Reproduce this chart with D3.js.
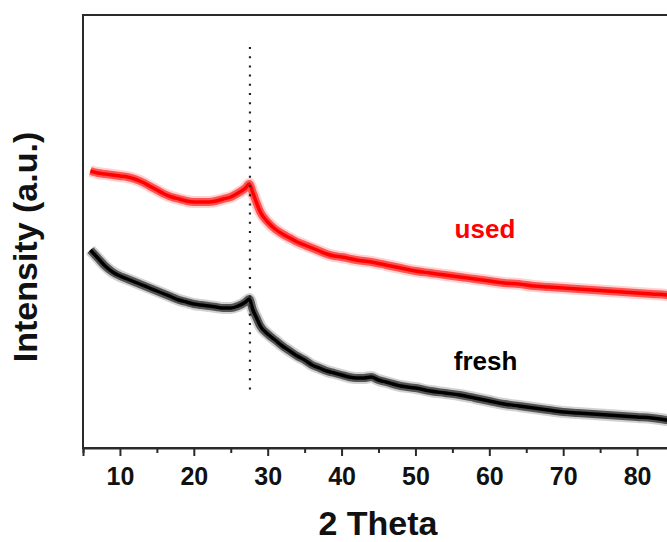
<!DOCTYPE html>
<html>
<head>
<meta charset="utf-8">
<script src="https://cdn.jsdelivr.net/npm/d3@7"></script>
<style>
  html, body { margin: 0; padding: 0; background: #fff; }
  svg { display: block; }
  text { font-family: "Liberation Sans", Arial, sans-serif; font-weight: bold; }
</style>
</head>
<body>
<svg id="chart" width="667" height="542"></svg>
<script>
// ---- data (intensity in arbitrary units) ----
const usedTheta = [6,7,8,9,10,11,12,13,14,15,16,17,18,19,20,21,22,23,24,25,26,27,27.5,28,28.5,29,30,31,32,33,34,35,36,37,38,39,40,42,44,46,48,50,52,54,56,58,60,62,64,66,68,70,72,74,76,78,80,82,84,85];
const usedIntensity = [277,275,274,273,272,271,269,266,262,258,254,251,249,247,246,246,246,247,249,251,255,260,264,255,245,236,226,219,214,210,206,203,200,197,194,192,191,188,186,183,180,177,175,173,171,169,167,165,164,162,161,160,159,158,157,156,155,154,153,152];

const freshTheta = [6,7,8,9,10,11,12,13,14,15,16,17,18,19,20,21,22,23,24,25,26,27,27.5,28,28.5,29,30,31,32,33,34,35,36,37,38,39,40,41,42,43,44,45,46,48,50,52,54,56,58,60,62,64,66,68,70,72,74,76,78,80,82,84,85];
const freshIntensity = [198,190,182,176,172,169,166,163,160,157,154,151,148,146,144,143,142,141,140,140,142,146,149,138,130,122,114,108,102,97,92,88,83,80,77,75,73,71,70,70,71,68,66,62,60,57,55,53,50,47,44,42,40,38,36,35,34,33,32,31,30,28,27];

const seriesNames = ["used", "fresh"];
const seriesColors = ["#ff0000", "#000000"];
const majorTicks = [10,20,30,40,50,60,70,80];
const minorTicks = [5,15,25,35,45,55,65,75,85];
const markerTheta = 27.6;
const markerRange = [58, 401];

const xLabel = "2 Theta";
const yLabel = "Intensity (a.u.)";

// ---- layout ----
const svg = d3.select("#chart");
const L = 83, R = 674, T = 15, B = 448;
const x = d3.scaleLinear().domain([5, 85]).range([L, R]);
const y = d3.scaleLinear().domain([0, 433]).range([B, T]);

const series = [
  { name: seriesNames[0], color: seriesColors[0], pts: usedTheta.map((t, i) => [t, usedIntensity[i]]) },
  { name: seriesNames[1], color: seriesColors[1], pts: freshTheta.map((t, i) => [t, freshIntensity[i]]) }
];

const line = d3.line().x(d => x(d[0])).y(d => y(d[1])).curve(d3.curveMonotoneX);

const g = svg.append("g");
series.forEach(s => {
  g.append("path").attr("d", line(s.pts)).attr("fill", "none")
    .attr("stroke", s.color).attr("stroke-width", 12).attr("stroke-opacity", 0.18)
    .attr("stroke-linejoin", "round");
  g.append("path").attr("d", line(s.pts)).attr("fill", "none")
    .attr("stroke", s.color).attr("stroke-width", 8).attr("stroke-opacity", 0.6)
    .attr("stroke-linejoin", "round");
  g.append("path").attr("d", line(s.pts)).attr("fill", "none")
    .attr("stroke", s.color).attr("stroke-width", 3.5)
    .attr("stroke-linejoin", "round");
});

// dotted marker line
g.append("line")
  .attr("x1", x(markerTheta)).attr("x2", x(markerTheta))
  .attr("y1", y(markerRange[1])).attr("y2", y(markerRange[0]))
  .attr("stroke", "#222").attr("stroke-width", 2.2)
  .attr("stroke-dasharray", "2,7.2");

// frame
svg.append("rect").attr("x", L).attr("y", T).attr("width", R - L).attr("height", B - T)
  .attr("fill", "none").attr("stroke", "#2a2a2a").attr("stroke-width", 2);

// x axis
const ax = svg.append("g").attr("transform", `translate(0,${B})`)
  .call(d3.axisBottom(x).tickValues(majorTicks).tickSize(8).tickPadding(11).tickFormat(d3.format("d")));
ax.select(".domain").attr("stroke", "#2a2a2a").attr("stroke-width", 2);
ax.selectAll(".tick line").attr("stroke", "#2a2a2a").attr("stroke-width", 2);
ax.selectAll(".tick text").attr("font-size", 25).attr("fill", "#111")
  .attr("font-family", "'Liberation Sans', Arial, sans-serif").attr("font-weight", "bold");

const axm = svg.append("g").attr("transform", `translate(0,${B})`)
  .call(d3.axisBottom(x).tickValues(minorTicks).tickSize(5).tickFormat(""));
axm.select(".domain").remove();
axm.selectAll(".tick line").attr("stroke", "#2a2a2a").attr("stroke-width", 2);

// axis titles
svg.append("text").attr("x", 378).attr("y", 535).attr("text-anchor", "middle")
  .attr("font-size", 34).attr("fill", "#111").text(xLabel);
svg.append("text").attr("transform", "translate(37,247) rotate(-90)").attr("text-anchor", "middle")
  .attr("font-size", 34).attr("fill", "#111").text(yLabel);

// series labels
svg.append("text").attr("x", x(55.3)).attr("y", 238).attr("font-size", 26)
  .attr("fill", seriesColors[0]).text(seriesNames[0]);
svg.append("text").attr("x", x(55.2)).attr("y", 370).attr("font-size", 26)
  .attr("fill", seriesColors[1]).text(seriesNames[1]);
</script>
</body>
</html>
